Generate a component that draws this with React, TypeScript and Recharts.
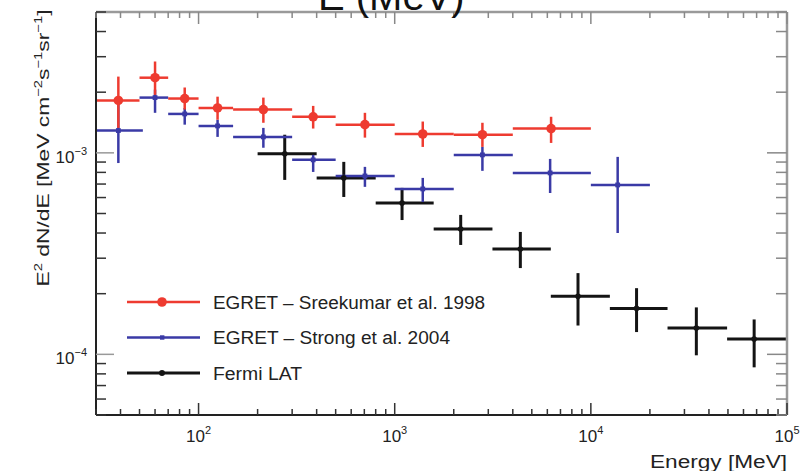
import React from 'react';
import { ScatterChart, Scatter, XAxis, YAxis, ErrorBar } from 'recharts';

// EGRET - Sreekumar et al. 1998
const sreekumarE = [39, 60, 85, 125, 214, 384, 705, 1390, 2800, 6270];
const sreekumarELow = [30, 50, 70, 100, 150, 300, 500, 1000, 2000, 4000];
const sreekumarEHigh = [50, 70, 100, 150, 300, 500, 1000, 2000, 4000, 10000];
const sreekumarFlux = [1.82e-3, 2.36e-3, 1.86e-3, 1.67e-3, 1.64e-3, 1.51e-3, 1.38e-3, 1.24e-3, 1.23e-3, 1.32e-3];
const sreekumarFluxLow = [1.33e-3, 1.94e-3, 1.64e-3, 1.46e-3, 1.41e-3, 1.32e-3, 1.19e-3, 1.07e-3, 1.07e-3, 1.12e-3];
const sreekumarFluxHigh = [2.39e-3, 2.84e-3, 2.11e-3, 1.9e-3, 1.88e-3, 1.71e-3, 1.58e-3, 1.43e-3, 1.41e-3, 1.51e-3];

// EGRET - Strong et al. 2004
const strongE = [39, 60, 85, 125, 214, 384, 705, 1390, 2800, 6200, 13700];
const strongELow = [30, 50, 70, 100, 150, 300, 500, 1000, 2000, 4000, 10000];
const strongEHigh = [52, 70, 100, 150, 300, 500, 1000, 2000, 4000, 10000, 20000];
const strongFlux = [1.29e-3, 1.88e-3, 1.56e-3, 1.36e-3, 1.2e-3, 9.23e-4, 7.68e-4, 6.62e-4, 9.77e-4, 7.95e-4, 6.93e-4];
const strongFluxLow = [8.9e-4, 1.58e-3, 1.38e-3, 1.2e-3, 1.06e-3, 8.04e-4, 6.78e-4, 5.7e-4, 8.14e-4, 6.32e-4, 4.0e-4];
const strongFluxHigh = [1.85e-3, 2.06e-3, 1.67e-3, 1.46e-3, 1.33e-3, 9.77e-4, 8.52e-4, 7.51e-4, 1.07e-3, 9.33e-4, 9.55e-4];

// Fermi LAT
const fermiE = [275, 550, 1090, 2170, 4370, 8600, 17100, 34500, 68000];
const fermiELow = [200, 400, 800, 1580, 3150, 6250, 12500, 24600, 49500];
const fermiEHigh = [400, 800, 1580, 3150, 6250, 12500, 24600, 49500, 100000];
const fermiFlux = [9.89e-4, 7.51e-4, 5.64e-4, 4.19e-4, 3.33e-4, 1.94e-4, 1.69e-4, 1.35e-4, 1.19e-4];
const fermiFluxLow = [7.34e-4, 6.04e-4, 4.64e-4, 3.49e-4, 2.68e-4, 1.39e-4, 1.29e-4, 9.89e-5, 8.62e-5];
const fermiFluxHigh = [1.23e-3, 9.02e-4, 6.7e-4, 4.92e-4, 4.05e-4, 2.53e-4, 2.13e-4, 1.71e-4, 1.49e-4];

// axis ticks
const xDomain = [30, 100000];
const yDomain = [5e-5, 5e-3];
const xTicks = [30, 40, 50, 60, 70, 80, 90, 100, 200, 300, 400, 500, 600, 700, 800, 900,
  1000, 2000, 3000, 4000, 5000, 6000, 7000, 8000, 9000,
  10000, 20000, 30000, 40000, 50000, 60000, 70000, 80000, 90000, 100000];
const yTicks = [5e-5, 6e-5, 7e-5, 8e-5, 9e-5,
  1e-4, 2e-4, 3e-4, 4e-4, 5e-4, 6e-4, 7e-4, 8e-4, 9e-4,
  1e-3, 2e-3, 3e-3, 4e-3, 5e-3];

const FONT = '"Liberation Sans", Arial, Helvetica, sans-serif';

const RED = '#ee3b30';
const BLUE = '#3a3aa6';
const BLACK = '#141414';

const toPoints = (e: number[], lo: number[], hi: number[], f: number[], flo: number[], fhi: number[]) =>
  e.map((x, i) => ({
    x,
    y: f[i],
    ex: [x - lo[i], hi[i] - x],
    ey: [f[i] - flo[i], fhi[i] - f[i]],
  }));

const sreekumarData = toPoints(sreekumarE, sreekumarELow, sreekumarEHigh, sreekumarFlux, sreekumarFluxLow, sreekumarFluxHigh);
const strongData = toPoints(strongE, strongELow, strongEHigh, strongFlux, strongFluxLow, strongFluxHigh);
const fermiData = toPoints(fermiE, fermiELow, fermiEHigh, fermiFlux, fermiFluxLow, fermiFluxHigh);

const isDecade = (v: number) => Math.abs(Math.log10(v) - Math.round(Math.log10(v))) < 1e-6;
const expOf = (v: number) => Math.round(Math.log10(v));
const supText = (n: number) => (n < 0 ? '\u2212' + Math.abs(n) : String(n));

function BottomTick(props: any) {
  const { x, y, payload } = props;
  const major = isDecade(payload.value);
  return (
    <g>
      <line x1={x} x2={x} y1={y} y2={y - (major ? 12 : 6)} stroke="#333" strokeWidth={1.5} />
      {major && (
        <text x={x} y={y + 27} textAnchor="middle" fontSize={17} fill="#222" fontFamily={FONT}>
          10<tspan dy={-8} fontSize={11}>{supText(expOf(payload.value))}</tspan>
        </text>
      )}
    </g>
  );
}

function TopTick(props: any) {
  const { x, y, payload } = props;
  const major = isDecade(payload.value);
  return <line x1={x} x2={x} y1={y} y2={y + (major ? 12 : 6)} stroke="#888" strokeWidth={1.5} />;
}

function LeftTick(props: any) {
  const { x, y, payload } = props;
  const major = isDecade(payload.value);
  return (
    <g>
      <line x1={x} x2={x + (major ? 18 : 10)} y1={y} y2={y} stroke={major ? '#999' : '#333'} strokeWidth={1.5} />
      {major && (
        <text x={x - 9} y={y + 10} textAnchor="end" fontSize={17} fill="#222" fontFamily={FONT}>
          10<tspan dy={-8} fontSize={11}>{supText(expOf(payload.value))}</tspan>
        </text>
      )}
    </g>
  );
}

function RightTick(props: any) {
  const { x, y, payload } = props;
  const major = isDecade(payload.value);
  return <line x1={x} x2={x - (major ? 20 : 11)} y1={y} y2={y} stroke="#888" strokeWidth={1.5} />;
}

const redDot = (p: any) => <circle cx={p.cx} cy={p.cy} r={4.8} fill={RED} />;
const blueDot = (p: any) => <rect x={p.cx - 2.4} y={p.cy - 2.4} width={4.8} height={4.8} fill={BLUE} />;
const blackDot = (p: any) => <circle cx={p.cx} cy={p.cy} r={2.8} fill={BLACK} />;

const legendItems = [
  { name: 'EGRET \u2013 Sreekumar et al. 1998', color: RED, width: 2.5, marker: 'big', textLength: 272 },
  { name: 'EGRET \u2013 Strong et al. 2004', color: BLUE, width: 2.5, marker: 'square', textLength: 237 },
  { name: 'Fermi LAT', color: BLACK, width: 3, marker: 'small', textLength: 89 },
];

export default function App() {
  return (
    <div style={{ position: 'relative', width: 807, height: 471, background: '#fff' }}>
      <style>{'body{margin:0}'}</style>
      <ScatterChart width={807} height={471} margin={{ top: 11, right: 19, bottom: 55, left: 95 }}>
        <XAxis
          type="number"
          dataKey="x"
          scale="log"
          domain={xDomain}
          allowDataOverflow
          ticks={xTicks}
          interval={0}
          height={1}
          tickSize={0}
          tickMargin={0}
          tickLine={false}
          tick={(p: any) => <BottomTick {...p} />}
          axisLine={{ stroke: '#222', strokeWidth: 2 }}
        />
        <XAxis
          xAxisId="top"
          orientation="top"
          type="number"
          dataKey="x"
          scale="log"
          domain={xDomain}
          allowDataOverflow
          ticks={xTicks}
          interval={0}
          height={1}
          tickSize={0}
          tickMargin={0}
          tickLine={false}
          tick={(p: any) => <TopTick {...p} />}
          axisLine={{ stroke: '#9a9a9a', strokeWidth: 2.5 }}
        />
        <YAxis
          type="number"
          dataKey="y"
          scale="log"
          domain={yDomain}
          allowDataOverflow
          ticks={yTicks}
          interval={0}
          width={1}
          tickSize={0}
          tickMargin={0}
          tickLine={false}
          tick={(p: any) => <LeftTick {...p} />}
          axisLine={{ stroke: '#222', strokeWidth: 2 }}
        />
        <YAxis
          yAxisId="right"
          orientation="right"
          type="number"
          dataKey="y"
          scale="log"
          domain={yDomain}
          allowDataOverflow
          ticks={yTicks}
          interval={0}
          width={1}
          tickSize={0}
          tickMargin={0}
          tickLine={false}
          tick={(p: any) => <RightTick {...p} />}
          axisLine={{ stroke: '#9a9a9a', strokeWidth: 2.5 }}
        />

        <Scatter name="Fermi LAT" data={fermiData} shape={blackDot} isAnimationActive={false}>
          <ErrorBar dataKey="ex" direction="x" width={0} stroke={BLACK} strokeWidth={3} />
          <ErrorBar dataKey="ey" direction="y" width={0} stroke={BLACK} strokeWidth={3} />
        </Scatter>
        <Scatter name="Strong" data={strongData} shape={blueDot} isAnimationActive={false}>
          <ErrorBar dataKey="ex" direction="x" width={0} stroke={BLUE} strokeWidth={2.5} />
          <ErrorBar dataKey="ey" direction="y" width={0} stroke={BLUE} strokeWidth={2.5} />
        </Scatter>
        <Scatter name="Sreekumar" data={sreekumarData} shape={redDot} isAnimationActive={false}>
          <ErrorBar dataKey="ex" direction="x" width={0} stroke={RED} strokeWidth={2.5} />
          <ErrorBar dataKey="ey" direction="y" width={0} stroke={RED} strokeWidth={2.5} />
        </Scatter>
      </ScatterChart>

      {/* title, axis titles and legend */}
      <svg width={807} height={471} style={{ position: 'absolute', left: 0, top: 0, pointerEvents: 'none' }}>
        <text x={318} y={10} fontSize={40} fill="#111" fontFamily={FONT}>E (MeV)</text>
        <text x={787} y={468} fontSize={18} fill="#222" fontFamily={FONT} textAnchor="end" textLength={137} lengthAdjust="spacingAndGlyphs">
          Energy [MeV]
        </text>
        <text
          x={49}
          y={148}
          fontSize={17}
          fill="#222"
          fontFamily={FONT}
          textAnchor="middle"
          transform="rotate(-90 49 148)"
          textLength={277}
          lengthAdjust="spacingAndGlyphs"
        >
          E<tspan dy={-7} fontSize={11}>2</tspan>
          <tspan dy={7}> dN/dE [MeV cm</tspan>
          <tspan dy={-7} fontSize={11}>{'\u22122'}</tspan>
          <tspan dy={7}>s</tspan>
          <tspan dy={-7} fontSize={11}>{'\u22121'}</tspan>
          <tspan dy={7}>sr</tspan>
          <tspan dy={-7} fontSize={11}>{'\u22121'}</tspan>
          <tspan dy={7}>]</tspan>
        </text>
        {legendItems.map((item, i) => {
          const cy = 302 + i * 35.5;
          return (
            <g key={item.name}>
              <line x1={127} x2={200} y1={cy} y2={cy} stroke={item.color} strokeWidth={item.width} />
              {item.marker === 'big' && <circle cx={162} cy={cy} r={4.8} fill={item.color} />}
              {item.marker === 'square' && <rect x={160} y={cy - 2.2} width={4.4} height={4.4} fill={item.color} />}
              {item.marker === 'small' && <circle cx={162} cy={cy} r={3} fill={item.color} />}
              <text x={213} y={cy + 6.5} fontSize={18} fill="#222" fontFamily={FONT} textLength={item.textLength} lengthAdjust="spacingAndGlyphs">
                {item.name}
              </text>
            </g>
          );
        })}
      </svg>
    </div>
  );
}
